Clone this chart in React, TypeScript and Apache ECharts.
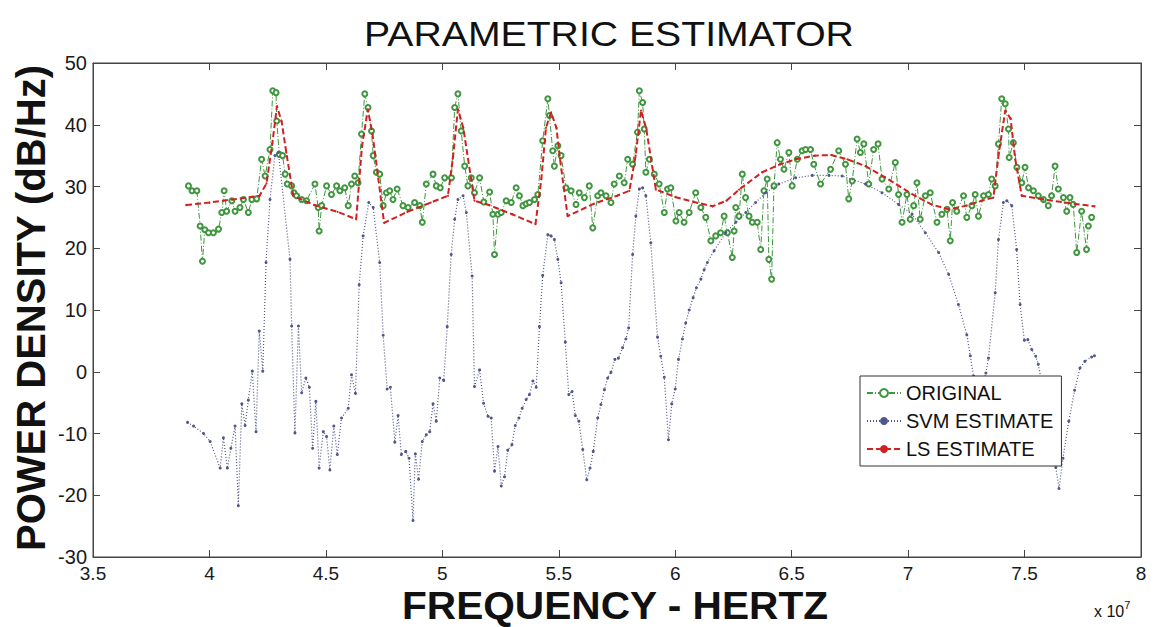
import React, { useEffect, useRef } from "react";
import * as echarts from "echarts";

// Frequencies in units of 1e7 Hz, power density in dB/Hz
const origFreq = [3.91,3.925,3.946,3.96,3.97,3.98,3.996,4.017,4.039,4.053,4.063,4.074,4.096,4.11,4.131,4.146,4.167,4.182,4.203,4.224,4.239,4.26,4.272,4.286,4.289,4.3,4.314,4.325,4.334,4.353,4.363,4.374,4.396,4.417,4.453,4.467,4.471,4.482,4.503,4.524,4.546,4.56,4.581,4.596,4.61,4.624,4.638,4.653,4.667,4.681,4.696,4.703,4.717,4.731,4.746,4.76,4.774,4.788,4.806,4.831,4.853,4.881,4.903,4.914,4.931,4.96,4.974,4.991,5.01,5.039,5.053,5.067,5.081,5.096,5.11,5.124,5.138,5.16,5.178,5.203,5.217,5.224,5.239,5.253,5.274,5.296,5.317,5.331,5.346,5.36,5.374,5.396,5.41,5.431,5.453,5.46,5.474,5.481,5.496,5.51,5.531,5.553,5.574,5.588,5.61,5.631,5.646,5.667,5.681,5.703,5.724,5.738,5.76,5.781,5.796,5.817,5.838,5.846,5.86,5.867,5.874,5.889,5.91,5.931,5.953,5.967,5.981,6.003,6.017,6.038,6.06,6.088,6.11,6.131,6.153,6.174,6.195,6.21,6.224,6.245,6.253,6.26,6.274,6.288,6.302,6.317,6.331,6.352,6.367,6.381,6.395,6.402,6.414,6.424,6.438,6.452,6.467,6.488,6.502,6.524,6.545,6.56,6.581,6.595,6.624,6.667,6.702,6.731,6.745,6.76,6.781,6.795,6.81,6.831,6.852,6.871,6.888,6.917,6.945,6.959,6.974,6.995,7.009,7.024,7.038,7.052,7.074,7.095,7.124,7.145,7.167,7.181,7.191,7.209,7.238,7.252,7.274,7.288,7.302,7.324,7.345,7.359,7.374,7.388,7.402,7.417,7.431,7.434,7.452,7.467,7.488,7.502,7.517,7.538,7.559,7.581,7.602,7.616,7.631,7.645,7.667,7.681,7.695,7.709,7.724,7.745,7.766,7.774,7.788];
const origDb = [30.1,29.3,29.3,23.6,17.9,23.0,22.5,22.5,23.1,25.8,29.3,26.0,27.7,26.0,26.6,27.9,25.8,27.9,28.0,34.4,31.7,36.0,45.5,45.2,40.6,35.2,35.0,32.0,30.4,30.1,29.0,28.5,27.9,27.7,30.4,26.6,22.8,26.9,30.1,28.7,30.1,29.3,29.8,26.9,30.4,31.7,30.6,38.5,45.0,42.8,39.0,35.0,32.3,32.0,26.9,29.0,29.3,27.9,29.6,26.9,26.6,27.4,26.9,24.2,30.4,32.0,30.1,29.8,31.4,31.4,42.8,45.0,39.0,33.3,30.1,31.4,29.0,31.4,27.5,29.1,25.5,19.0,25.5,25.8,27.7,27.4,29.8,28.5,26.9,27.2,27.4,27.9,28.7,37.4,44.2,41.5,35.8,33.3,36.6,35.0,29.8,29.3,27.1,29.0,28.2,30.1,23.3,28.5,29.0,28.5,27.4,30.4,31.7,30.6,34.4,33.6,38.8,45.5,43.6,39.3,32.3,34.4,32.0,30.4,25.8,29.6,29.8,24.4,25.8,24.2,25.8,29.0,26.6,25.0,21.2,22.0,22.5,25.2,22.5,18.5,22.8,26.6,25.2,32.0,28.2,25.2,24.2,24.2,19.8,29.3,31.2,18.2,15.0,30.1,37.1,34.4,32.8,35.5,30.1,34.4,35.8,36.0,36.0,33.6,30.4,32.8,35.8,33.6,28.0,30.9,37.7,35.5,36.9,30.4,36.0,36.9,31.2,29.6,33.9,28.7,24.2,28.7,24.7,26.9,30.6,24.7,28.5,29.0,24.2,25.5,26.3,21.2,27.4,26.0,28.5,25.0,26.9,28.7,25.2,28.5,28.7,31.2,30.1,36.9,44.2,43.4,39.3,34.7,37.1,33.1,30.6,33.1,29.8,29.3,28.5,27.9,26.9,28.5,33.3,29.6,28.2,26.0,28.2,27.1,19.3,26.0,19.8,23.6,25.0];

const svmFreq = [3.906,3.932,3.975,4.003,4.046,4.06,4.077,4.092,4.11,4.124,4.139,4.153,4.167,4.184,4.2,4.214,4.229,4.243,4.26,4.281,4.296,4.346,4.353,4.367,4.382,4.396,4.414,4.429,4.443,4.457,4.471,4.489,4.503,4.517,4.534,4.549,4.567,4.596,4.61,4.627,4.643,4.66,4.684,4.703,4.731,4.746,4.763,4.777,4.796,4.81,4.824,4.843,4.857,4.874,4.884,4.898,4.914,4.931,4.946,4.96,4.974,4.989,5.006,5.021,5.038,5.053,5.067,5.089,5.103,5.128,5.138,5.16,5.177,5.196,5.21,5.224,5.239,5.253,5.267,5.281,5.299,5.313,5.329,5.343,5.36,5.374,5.389,5.403,5.417,5.431,5.453,5.467,5.481,5.496,5.51,5.528,5.543,5.557,5.571,5.586,5.603,5.62,5.634,5.648,5.667,5.681,5.696,5.71,5.724,5.741,5.756,5.774,5.788,5.8,5.817,5.831,5.846,5.86,5.874,5.895,5.924,5.938,5.953,5.971,5.985,6.0,6.014,6.031,6.045,6.06,6.077,6.091,6.11,6.124,6.138,6.167,6.217,6.26,6.303,6.345,6.388,6.445,6.517,6.588,6.66,6.717,6.817,6.888,6.959,7.017,7.074,7.131,7.174,7.216,7.252,7.267,7.281,7.3,7.334,7.345,7.374,7.388,7.409,7.424,7.445,7.466,7.481,7.499,7.514,7.531,7.548,7.559,7.58,7.61,7.634,7.648,7.665,7.69,7.715,7.738,7.759,7.788,7.8];
const svmDb = [-8.2,-8.8,-10.0,-11.3,-15.6,-10.7,-15.6,-12.4,-8.8,-21.7,-5.2,-8.7,-4.6,0.1,-9.7,6.6,0.1,17.7,27.9,35.0,35.5,18.2,7.4,-9.9,7.4,-3.4,-1.0,-2.5,-12.4,-4.8,-15.6,-9.7,-10.5,-15.9,-8.8,-13.4,-7.5,-5.9,-0.5,-3.5,14.1,22.0,27.4,26.6,17.7,5.9,-2.8,-2.5,-11.4,-7.1,-13.4,-12.9,-14.0,-24.1,-13.3,-17.4,-11.3,-10.2,-9.7,-5.2,-8.0,-1.0,-1.4,7.3,19.0,24.7,27.9,28.5,25.8,15.5,-2.4,0.3,-5.1,-7.2,-7.5,-16.1,-12.1,-18.5,-17.0,-12.7,-11.8,-8.7,-7.5,-5.9,-4.5,-3.7,-1.5,-2.5,7.3,15.6,22.2,22.0,21.4,18.2,14.4,4.8,-3.7,-3.2,-7.1,-8.0,-12.6,-17.5,-15.6,-12.9,-7.5,-5.3,-2.9,-1.0,-0.1,2.0,2.2,3.9,5.3,7.1,19.0,25.2,29.6,29.8,28.5,20.9,5.6,2.5,-0.9,-11.0,-5.2,-2.8,2.0,5.3,7.9,10.0,12.0,13.6,15.0,16.5,17.7,19.6,22.5,24.2,25.8,27.4,29.0,30.4,31.4,31.8,31.8,31.7,30.4,29.0,27.1,25.5,22.5,19.3,15.8,10.9,6.0,2.6,-0.7,-4.0,-0.2,2.2,12.8,21.4,27.4,27.7,26.9,19.8,10.9,5.1,5.2,3.6,2.5,1.2,-3.0,-9.0,-15.5,-18.9,-14.0,-8.0,-3.0,0.6,1.7,2.4,2.6];

const lsFreq = [3.9,4.0,4.1,4.215,4.245,4.27,4.29,4.31,4.33,4.36,4.45,4.55,4.63,4.655,4.68,4.7,4.75,4.85,4.95,5.024,5.045,5.067,5.09,5.138,5.2,5.3,5.4,5.425,5.445,5.467,5.49,5.505,5.538,5.65,5.75,5.803,5.83,5.853,5.875,5.917,6.0,6.08,6.16,6.22,6.274,6.373,6.45,6.517,6.6,6.67,6.74,6.817,6.9,6.96,7.03,7.1,7.173,7.25,7.316,7.366,7.39,7.417,7.44,7.46,7.488,7.58,7.673,7.8];
const lsDb = [27.0,27.4,27.9,28.5,30.5,37.0,43.0,40.5,35.5,28.5,27.0,25.9,24.7,36.5,42.5,38.5,24.1,25.9,27.4,28.5,34.5,42.5,39.5,27.7,27.0,25.5,23.9,31.2,39.5,42.0,39.5,34.5,25.2,27.2,28.5,29.3,35.0,42.3,39.5,29.5,28.3,27.5,26.8,27.7,29.5,32.3,33.6,34.4,35.0,35.1,34.4,33.3,31.5,30.1,28.5,27.1,26.3,26.9,27.7,28.2,35.5,42.3,41.0,34.4,28.5,27.9,27.4,26.8];

const seriesNames = ["ORIGINAL", "SVM ESTIMATE", "LS ESTIMATE"];
const yTicks = { min: -30, max: 50, step: 10 };
const xTicks = { min: 3.5, max: 8, step: 0.5 };

const zip = (xs: number[], ys: number[]) => xs.map((x, i) => [x, ys[i]]);

const FONT = "Liberation Sans";

export default function App() {
  const ref = useRef<HTMLDivElement>(null);
  useEffect(() => {
    if (!ref.current) return;
    const chart = echarts.init(ref.current, null, { renderer: "svg" });
    const axisCommon = {
      axisLine: { show: true, onZero: false, lineStyle: { color: "#444", width: 1 } },
      axisTick: { show: true, inside: true, length: 7, lineStyle: { color: "#444" } },
      splitLine: { show: false },
    };
    const labelStyle = { color: "#1a1a1a", fontSize: 19, fontFamily: FONT };
    chart.setOption({
      animation: false,
      backgroundColor: "#ffffff",
      grid: { left: 93, right: 17, top: 63, bottom: 70, show: true, borderColor: "#444", borderWidth: 1, backgroundColor: "transparent" },
      xAxis: [
        {
          type: "value", min: xTicks.min, max: xTicks.max, interval: xTicks.step, position: "bottom",
          ...axisCommon,
          axisLabel: { ...labelStyle, margin: 7 },
        },
        {
          type: "value", min: xTicks.min, max: xTicks.max, interval: xTicks.step, position: "top",
          ...axisCommon, axisLabel: { show: false },
        },
      ],
      yAxis: [
        {
          type: "value", min: yTicks.min, max: yTicks.max, interval: yTicks.step, position: "left",
          ...axisCommon,
          axisLabel: { ...labelStyle, fontSize: 20, margin: 6 },
        },
        {
          type: "value", min: yTicks.min, max: yTicks.max, interval: yTicks.step, position: "right",
          ...axisCommon, axisLabel: { show: false },
        },
      ],
      legend: {
        orient: "vertical", left: 860, top: 376,
        backgroundColor: "#ffffff", borderColor: "#333", borderWidth: 1,
        padding: [7, 8, 7, 6], itemGap: 8, itemWidth: 34, itemHeight: 10,
        textStyle: { fontSize: 20, fontFamily: FONT, color: "#111" },
        data: seriesNames,
      },
      series: [
        {
          name: seriesNames[0], type: "line", data: zip(origFreq, origDb),
          symbol: "emptyCircle", symbolSize: 5, showAllSymbol: true,
          itemStyle: { color: "#3f963f", borderWidth: 1 },
          lineStyle: { color: "#3f963f", width: 1, type: [6, 2, 1, 2] },
          z: 2,
        },
        {
          name: seriesNames[1], type: "line", data: zip(svmFreq, svmDb),
          symbol: "circle", symbolSize: 3, showAllSymbol: true,
          itemStyle: { color: "#50558a" },
          lineStyle: { color: "#50558a", width: 1.2, type: [1, 2] },
          z: 3,
        },
        {
          name: seriesNames[2], type: "line", data: zip(lsFreq, lsDb),
          symbol: "circle", symbolSize: 2, showAllSymbol: true,
          itemStyle: { color: "#d02020" },
          lineStyle: { color: "#d02020", width: 2, type: [6, 3] },
          z: 4,
        },
      ],
      graphic: [
        {
          type: "text", x: 609, y: 34, scaleX: 1.12, z: 10,
          style: { text: "PARAMETRIC ESTIMATOR", font: `35px '${FONT}'`, fill: "#111", textAlign: "center", textVerticalAlign: "middle" },
        },
        {
          type: "text", x: 615, y: 605, scaleX: 1.07, z: 10,
          style: { text: "FREQUENCY - HERTZ", font: `bold 38px '${FONT}'`, fill: "#111", textAlign: "center", textVerticalAlign: "middle" },
        },
        {
          type: "text", x: 31, y: 308, rotation: Math.PI / 2, z: 10,
          style: { text: "POWER DENSITY (dB/Hz)", font: `bold 40px '${FONT}'`, fill: "#111", textAlign: "center", textVerticalAlign: "middle" },
        },
        {
          type: "text", x: 1094, y: 599, z: 10,
          style: {
            text: "{a|x 10}{b|7}", fill: "#111",
            rich: {
              a: { fontSize: 16, fontFamily: FONT, color: "#111", verticalAlign: "bottom", lineHeight: 20 },
              b: { fontSize: 11, fontFamily: FONT, color: "#111", verticalAlign: "top", lineHeight: 20, padding: [0, 0, 8, 0] },
            },
          },
        },
      ],
    });
    return () => chart.dispose();
  }, []);
  return <div ref={ref} style={{ position: "fixed", left: 0, top: 0, width: 1158, height: 627 }} />;
}
